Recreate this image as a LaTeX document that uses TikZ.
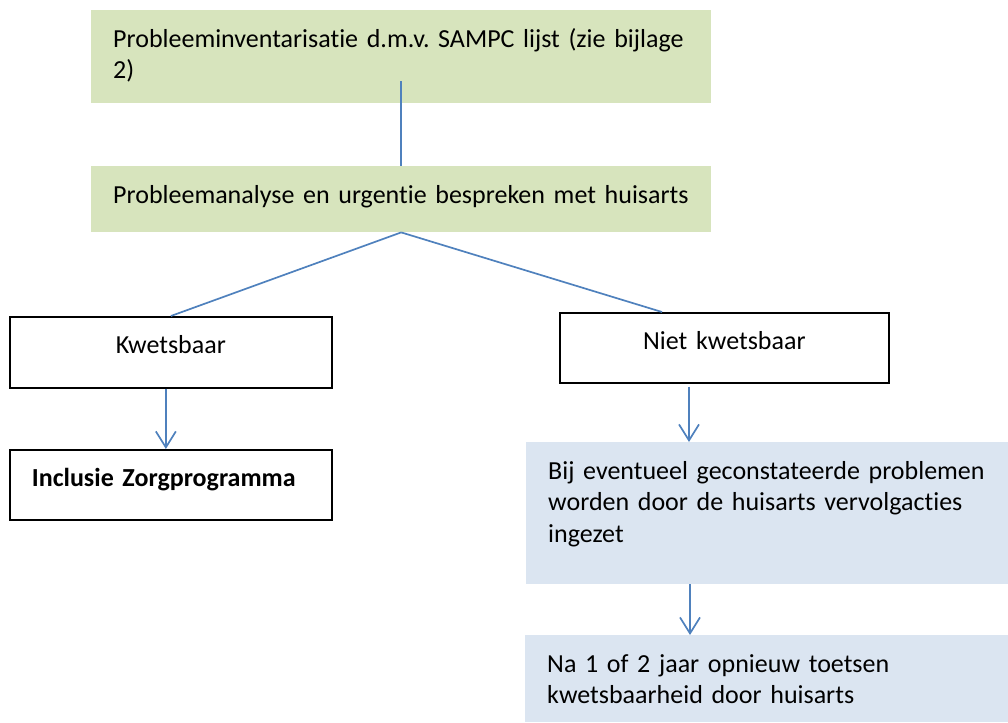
\documentclass[tikz,border=0pt]{standalone}
\usepackage{fontspec}
\setmainfont{Carlito}[Ligatures=NoCommon]
\frenchspacing
\usetikzlibrary{arrows.meta}
\definecolor{cellgreen}{HTML}{D7E4BD}
\definecolor{cellblue}{HTML}{DBE5F1}
\definecolor{linkblue}{HTML}{4F81BD}
\tikzset{
  cell/.style={anchor=north west, inner xsep=22pt, inner ysep=0pt, text height=37pt,
    align=left, font=\fontsize{26}{31.5}\selectfont},
  greencell/.style={cell, fill=cellgreen},
  bluecell/.style={cell, fill=cellblue},
  framecell/.style={cell, draw=black, line width=1.7pt, align=center},
  link/.style={draw=linkblue, line width=1.7pt},
  arrowlink/.style={link, -{Straight Barb[length=16pt,width=20pt]}}
}
\begin{document}
\begin{tikzpicture}[x=1pt,y=-1pt]
    \useasboundingbox (0,0) rectangle (1008,722);
    \node[greencell, text width=576pt, text depth=56pt] (inventory) at (91,10)
        {Probleeminventarisatie d.m.v. SAMPC lijst (zie bijlage\\2)};
    \node[greencell, text width=576pt, text depth=29pt] (analysis) at (91,166)
        {Probleemanalyse en urgentie bespreken met huisarts};
    \node[framecell, text width=278pt, text depth=34pt] (vulnerable) at (9,316) {Kwetsbaar};
    \node[framecell, text width=285pt, text depth=33pt] (notvulnerable) at (559,312) {Niet kwetsbaar};
    \node[framecell, align=left, text width=278pt, text depth=33pt] (inclusion) at (9,449)
        {\textbf{Inclusie Zorgprogramma}};
    \node[bluecell, text width=440pt, text depth=105pt] (followup) at (526,442)
        {Bij eventueel geconstateerde problemen\\worden door de huisarts vervolgacties\\ingezet};
    \node[bluecell, text width=440pt, text depth=50pt] (retest) at (525,635)
        {Na 1 of 2 jaar opnieuw toetsen\\kwetsbaarheid door huisarts};
    \draw[link] ([yshift=22pt]inventory.south) -- (analysis.north);
    \draw[link] (analysis.south) -- (vulnerable.north);
    \draw[link] (analysis.south) -- ([xshift=103pt]notvulnerable.north west);
    \draw[arrowlink] ([xshift=-5pt]vulnerable.south) -- ([xshift=-5pt]inclusion.north);
    \draw[arrowlink] ([xshift=130pt,yshift=-3pt]notvulnerable.south west) -- ([xshift=163pt]followup.north west);
    \draw[arrowlink] ([xshift=164pt]followup.south west) -- ([xshift=165pt]retest.north west);
\end{tikzpicture}
\end{document}
